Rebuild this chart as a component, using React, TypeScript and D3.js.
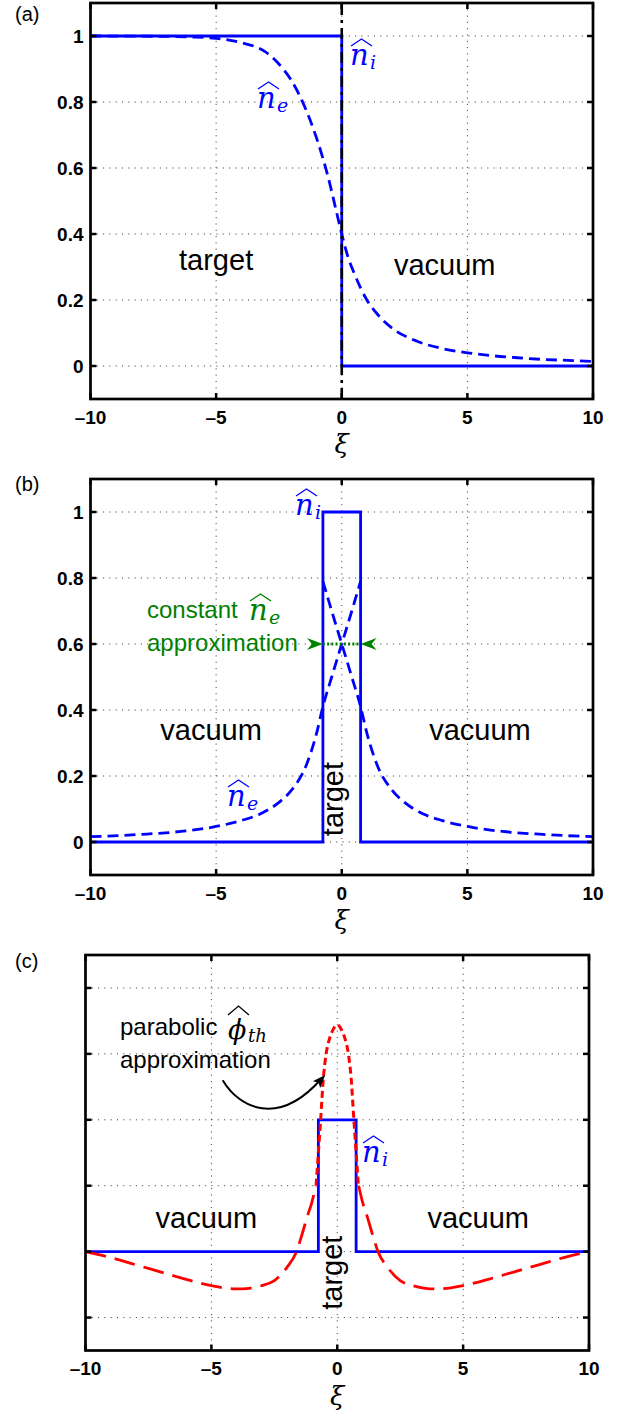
import React from 'react';
import * as d3 from 'd3';

const W = 621;
const H = 1411;

// ---------- ticks ----------
const xTickValues = [-10, -5, 0, 5, 10];
const xTickLabels = ['–10', '–5', '0', '5', '10'];
const yTickValuesAB = [0, 0.2, 0.4, 0.6, 0.8, 1];
const yTickLabelsAB = ['0', '0.2', '0.4', '0.6', '0.8', '1'];
const yTickValuesC = [-0.5, 0, 0.5, 1, 1.5, 2];

// ---------- panel (a) ----------
const aIonXi = [-10, 0, 0, 10];
const aIonN = [1, 1, 0, 0];
const aElecXi = [-10, -8, -6, -5, -4, -3, -2.5, -2, -1.5, -1, -0.5, -0.25, 0, 0.25, 0.5, 1, 1.5, 2, 3, 4, 5, 6, 7, 8, 9, 10];
const aElecN = [1.0, 0.9995, 0.997, 0.993, 0.98, 0.95, 0.915, 0.865, 0.79, 0.69, 0.56, 0.48, 0.4, 0.33, 0.28, 0.2, 0.15, 0.115, 0.075, 0.053, 0.04, 0.031, 0.025, 0.02, 0.017, 0.014];
const aInterfaceXi = [0, 0];
const aInterfaceN = [-0.1, 1.1];

// ---------- panel (b) ----------
const bIonXi = [-10, -0.75, -0.75, 0.75, 0.75, 10];
const bIonN = [0, 0, 1, 1, 0, 0];
const bElecLeftXi = [-10, -8, -6.4, -5, -4, -3.25, -2.5, -2, -1.4, -1, -0.75, -0.4, 0, 0.4, 0.75];
const bElecLeftN = [0.016, 0.023, 0.032, 0.047, 0.065, 0.085, 0.12, 0.157, 0.235, 0.33, 0.41, 0.5, 0.6, 0.7, 0.79];
const bElecRightXi = [-0.75, -0.4, 0, 0.4, 0.75, 1, 1.4, 2, 2.5, 3.25, 4, 5, 6.4, 8, 10];
const bElecRightN = [0.79, 0.7, 0.6, 0.5, 0.41, 0.33, 0.235, 0.157, 0.12, 0.085, 0.065, 0.047, 0.032, 0.023, 0.016];
const bConstXi = [-0.75, 0.75];
const bConstN = [0.6, 0.6];

// ---------- panel (c) ----------
const cIonXi = [-10, -0.75, -0.75, 0.75, 0.75, 10];
const cIonN = [0, 0, 1, 1, 0, 0];
const cPhiLeftXi = [-10, -9, -8, -7, -6, -5, -4, -3.5, -3, -2.5, -2, -1.62, -1.4, -1.2, -1, -0.85];
const cPhiLeftV = [0, -0.045, -0.1, -0.155, -0.21, -0.258, -0.283, -0.278, -0.258, -0.22, -0.12, 0, 0.13, 0.26, 0.38, 0.5];
const cPhiRightXi = [0.85, 1, 1.2, 1.4, 1.62, 2, 2.5, 3, 3.5, 4, 5, 6, 7, 8, 9, 10];
const cPhiRightV = [0.5, 0.38, 0.26, 0.13, 0, -0.12, -0.22, -0.258, -0.278, -0.283, -0.258, -0.21, -0.155, -0.1, -0.045, 0];
const cParabXi = [-0.84, -0.75, -0.66, -0.55, -0.45, -0.3, -0.2, 0, 0.2, 0.3, 0.45, 0.55, 0.66, 0.75, 0.84];
const cParabV = [0.5, 0.75, 1.0, 1.32, 1.49, 1.62, 1.67, 1.72, 1.67, 1.62, 1.49, 1.32, 1.0, 0.75, 0.5];
const cArrowXi = [-4.55, -3.9, -2.35, -0.48];
const cArrowV = [1.3, 1.09, 0.94, 1.34];

const BLUE = '#0000ff';
const RED = '#ff0000';
const GREEN = '#008000';
const SANS = '"Liberation Sans", Arial, Helvetica, sans-serif';
const SERIF = '"DejaVu Serif", serif';

type Sc = d3.ScaleLinear<number, number>;

const pairs = (xa: number[], va: number[]) => xa.map((x, i) => [x, va[i]] as [number, number]);
const lineOf = (xs: Sc, ys: Sc, curve: d3.CurveFactory = d3.curveLinear) =>
  d3.line<[number, number]>().x((d) => xs(d[0])).y((d) => ys(d[1])).curve(curve);

function Grid({ xs, ys, yTicks }: { xs: Sc; ys: Sc; yTicks: number[] }) {
  const [l, r] = xs.range();
  const [b, t] = ys.range();
  return (
    <g stroke="#333" strokeWidth={1} strokeDasharray="1,5.3" fill="none">
      {xTickValues.filter((v) => v > -10 && v < 10).map((v) => (
        <line key={'gx' + v} x1={xs(v)} x2={xs(v)} y1={t} y2={b} />
      ))}
      {yTicks.map((v) => (
        <line key={'gy' + v} x1={l} x2={r} y1={ys(v)} y2={ys(v)} />
      ))}
    </g>
  );
}

function Axes({ xs, ys, yTicks, yLabels }: { xs: Sc; ys: Sc; yTicks: number[]; yLabels?: string[] }) {
  const [l, r] = xs.range();
  const [b, t] = ys.range();
  const tl = 6;
  return (
    <g>
      <g stroke="#000" strokeWidth={2.5}>
        {xTickValues.map((v) => (
          <g key={'tx' + v}>
            <line x1={xs(v)} x2={xs(v)} y1={b} y2={b - tl} />
            <line x1={xs(v)} x2={xs(v)} y1={t} y2={t + tl} />
          </g>
        ))}
        {yTicks.map((v) => (
          <g key={'ty' + v}>
            <line x1={l} x2={l + tl} y1={ys(v)} y2={ys(v)} />
            <line x1={r} x2={r - tl} y1={ys(v)} y2={ys(v)} />
          </g>
        ))}
      </g>
      <rect x={l} y={t} width={r - l} height={b - t} fill="none" stroke="#000" strokeWidth={2.7} />
      <g fontFamily={SANS} fontWeight="bold" fontSize={19} fill="#000">
        {xTickValues.map((v, i) => (
          <text key={'lx' + v} x={xs(v)} y={b + 24.5} textAnchor="middle">
            {xTickLabels[i]}
          </text>
        ))}
        {yLabels &&
          yTicks.map((v, i) => (
            <text key={'ly' + v} x={l - 7} y={ys(v) + 6.8} textAnchor="end">
              {yLabels[i]}
            </text>
          ))}
      </g>
      <text x={(l + r) / 2} y={b + 54} textAnchor="middle" fontFamily={SERIF} fontStyle="italic" fontSize={26}>
        ξ
      </text>
    </g>
  );
}

function HatLabel({ x, y, base, sub, color, size = 29, subSize = 19, subDx = 20, subDy = 4, hatW = 21 }: any) {
  return (
    <g fill={color}>
      <text x={x} y={y} fontFamily={SERIF} fontStyle="italic" fontSize={size}>
        {base}
      </text>
      <path
        d={`M${x + 1},${y - 19} L${x + 1 + hatW / 2},${y - 26} L${x + 1 + hatW},${y - 19}`}
        stroke={color}
        strokeWidth={1.3}
        fill="none"
      />
      <text x={x + subDx} y={y + subDy} fontFamily={SERIF} fontStyle="italic" fontSize={subSize}>
        {sub}
      </text>
    </g>
  );
}

function Arrowhead({ tip, from, color, len = 16, half = 6, notch = 5 }: any) {
  const dx = tip[0] - from[0];
  const dy = tip[1] - from[1];
  const m = Math.hypot(dx, dy);
  const ux = dx / m;
  const uy = dy / m;
  const px = -uy;
  const py = ux;
  const bx = tip[0] - ux * len;
  const by = tip[1] - uy * len;
  const nx = tip[0] - ux * (len - notch);
  const ny = tip[1] - uy * (len - notch);
  const d = `M${tip[0]},${tip[1]} L${bx + px * half},${by + py * half} L${nx},${ny} L${bx - px * half},${by - py * half} Z`;
  return <path d={d} fill={color} stroke="none" />;
}

export default function App() {
  const xsAB = d3.scaleLinear().domain([-10, 10]).range([90.5, 593]);
  const ysA = d3.scaleLinear().domain([-0.1, 1.1]).range([399, 3]);
  const ysB = d3.scaleLinear().domain([-0.1, 1.1]).range([875, 479]);
  const xsC = d3.scaleLinear().domain([-10, 10]).range([85.5, 589]);
  const ysC = d3.scaleLinear().domain([-0.75, 2.25]).range([1350.5, 955]);

  const linA = lineOf(xsAB, ysA);
  const curA = lineOf(xsAB, ysA, d3.curveMonotoneX);
  const linB = lineOf(xsAB, ysB);
  const curB = lineOf(xsAB, ysB, d3.curveMonotoneX);
  const linC = lineOf(xsC, ysC);
  const curC = lineOf(xsC, ysC, d3.curveMonotoneX);

  const gy = ysB(bConstN[0]);
  const gl = xsAB(bConstXi[0]);
  const gr = xsAB(bConstXi[1]);

  const ap = cArrowXi.map((x, i) => [xsC(x), ysC(cArrowV[i])]);
  const arrowPath = `M${ap[0][0]},${ap[0][1]} C${ap[1][0]},${ap[1][1]} ${ap[2][0]},${ap[2][1]} ${ap[3][0] - 4},${ap[3][1] + 4}`;

  const bigText = { fontFamily: SANS, fontSize: 29, fill: '#000' } as any;
  const annText = { fontFamily: SANS, fontSize: 24 } as any;
  const LW = 2.8;

  return (
    <svg width={W} height={H} style={{ position: 'absolute', left: 0, top: 0, background: '#fff' }}>
      <rect x={0} y={0} width={W} height={H} fill="#fff" />

      {/* ================= (a) ================= */}
      <text x={15} y={21} fontFamily={SANS} fontSize={20}>(a)</text>
      <Grid xs={xsAB} ys={ysA} yTicks={yTickValuesAB} />
      <path d={linA(pairs(aIonXi, aIonN)) || ''} fill="none" stroke={BLUE} strokeWidth={LW} />
      <path d={curA(pairs(aElecXi, aElecN)) || ''} fill="none" stroke={BLUE} strokeWidth={LW} strokeDasharray="11,6" />
      <path d={linA(pairs(aInterfaceXi, aInterfaceN)) || ''} fill="none" stroke="#000" strokeWidth={2.6} strokeDasharray="11,5,3,5" />
      <text x={xsAB(-5)} y={ysA(0.29)} textAnchor="middle" {...bigText}>target</text>
      <text x={xsAB(4.1)} y={ysA(0.276)} textAnchor="middle" {...bigText}>vacuum</text>
      <HatLabel x={257} y={108} base="n" sub="e" color={BLUE} />
      <HatLabel x={350} y={65} base="n" sub="i" color={BLUE} />
      <Axes xs={xsAB} ys={ysA} yTicks={yTickValuesAB} yLabels={yTickLabelsAB} />

      {/* ================= (b) ================= */}
      <text x={15} y={491} fontFamily={SANS} fontSize={20}>(b)</text>
      <Grid xs={xsAB} ys={ysB} yTicks={yTickValuesAB} />
      <path d={linB(pairs(bIonXi, bIonN)) || ''} fill="none" stroke={BLUE} strokeWidth={LW} />
      <path d={curB(pairs(bElecLeftXi, bElecLeftN)) || ''} fill="none" stroke={BLUE} strokeWidth={LW} strokeDasharray="11,6" />
      <path d={curB(pairs(bElecRightXi, bElecRightN)) || ''} fill="none" stroke={BLUE} strokeWidth={LW} strokeDasharray="11,6" />
      <path d={linB(pairs(bConstXi, bConstN)) || ''} fill="none" stroke={GREEN} strokeWidth={3} strokeDasharray="2,2.2" />
      <Arrowhead tip={[gl, gy]} from={[gl - 20, gy]} color={GREEN} />
      <Arrowhead tip={[gr, gy]} from={[gr + 20, gy]} color={GREEN} />
      <text x={xsAB(-5.2)} y={ysB(0.31)} textAnchor="middle" {...bigText}>vacuum</text>
      <text x={xsAB(5.5)} y={ysB(0.31)} textAnchor="middle" {...bigText}>vacuum</text>
      <text transform={`translate(${xsAB(0.06)},${ysB(0.13)}) rotate(-90)`} textAnchor="middle" {...bigText}>target</text>
      <HatLabel x={227} y={806} base="n" sub="e" color={BLUE} />
      <HatLabel x={295} y={515} base="n" sub="i" color={BLUE} />
      <text x={147} y={618} {...annText} fill={GREEN}>constant</text>
      <HatLabel x={249} y={620} base="n" sub="e" color={GREEN} />
      <text x={147} y={651} {...annText} fill={GREEN}>approximation</text>
      <Axes xs={xsAB} ys={ysB} yTicks={yTickValuesAB} yLabels={yTickLabelsAB} />

      {/* ================= (c) ================= */}
      <text x={15} y={968} fontFamily={SANS} fontSize={20}>(c)</text>
      <Grid xs={xsC} ys={ysC} yTicks={yTickValuesC} />
      <path d={linC(pairs(cIonXi, cIonN)) || ''} fill="none" stroke={BLUE} strokeWidth={LW} />
      <path d={curC(pairs(cPhiLeftXi, cPhiLeftV)) || ''} fill="none" stroke={RED} strokeWidth={LW} strokeDasharray="21,9" />
      <path d={curC(pairs(cPhiRightXi, cPhiRightV)) || ''} fill="none" stroke={RED} strokeWidth={LW} strokeDasharray="21,9" />
      <path d={curC(pairs(cParabXi, cParabV)) || ''} fill="none" stroke={RED} strokeWidth={3} strokeDasharray="7,4" />
      <text x={xsC(-5.2)} y={ysC(0.18)} textAnchor="middle" {...bigText}>vacuum</text>
      <text x={xsC(5.6)} y={ysC(0.18)} textAnchor="middle" {...bigText}>vacuum</text>
      <text transform={`translate(${xsC(0.2)},${ysC(-0.16)}) rotate(-90)`} textAnchor="middle" {...bigText}>target</text>
      <HatLabel x={362} y={1162} base="n" sub="i" color={BLUE} />
      <text x={120} y={1035} {...annText} fill="#000">parabolic</text>
      <g fill="#000">
        <text x={228} y={1039} fontFamily={SERIF} fontStyle="italic" fontSize={27}>ϕ</text>
        <path d="M228,1015 L238.5,1006 L249,1015" stroke="#000" strokeWidth={1.3} fill="none" />
        <text x={248} y={1042} fontFamily={SERIF} fontStyle="italic" fontSize={18}>th</text>
      </g>
      <text x={120} y={1068} {...annText} fill="#000">approximation</text>
      <path d={arrowPath} fill="none" stroke="#000" strokeWidth={2} />
      <Arrowhead tip={ap[3]} from={ap[2]} color="#000" len={13} half={5} notch={3} />
      <Axes xs={xsC} ys={ysC} yTicks={yTickValuesC} />
    </svg>
  );
}
